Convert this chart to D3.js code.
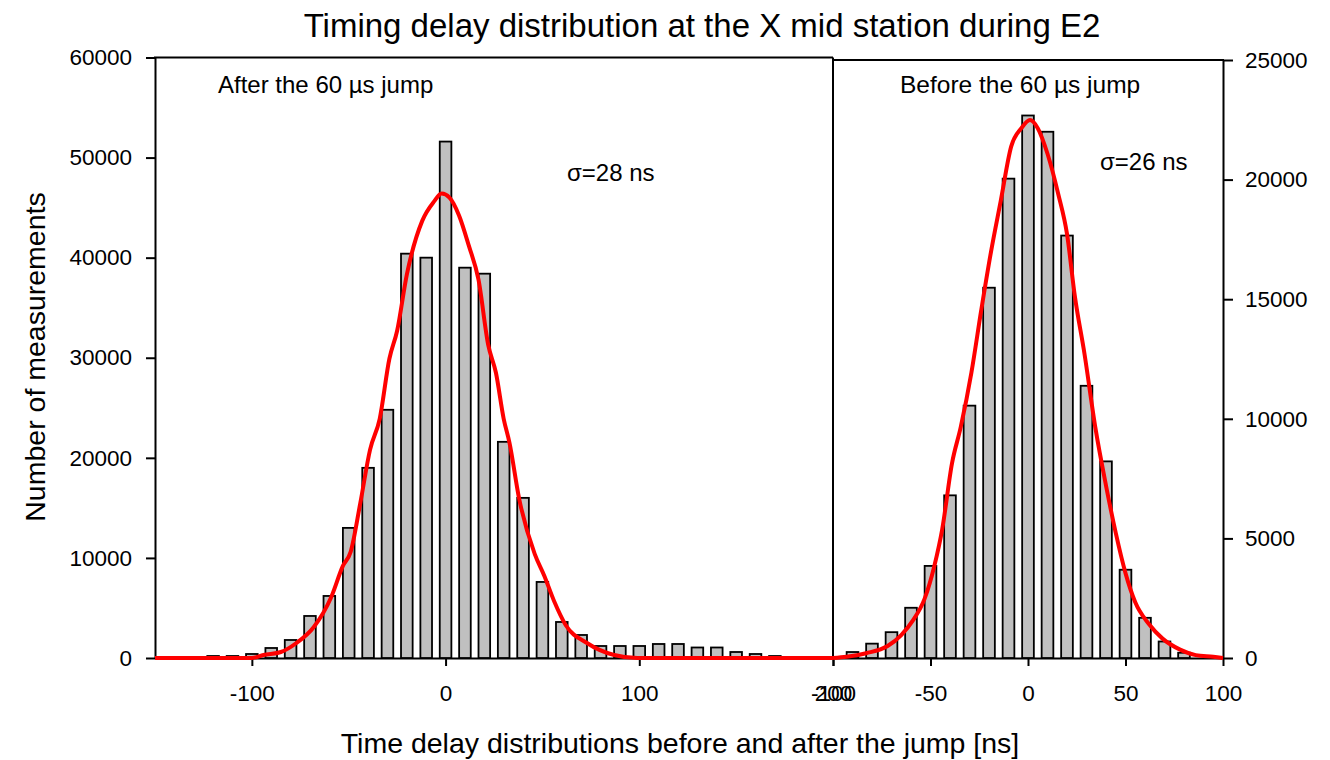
<!DOCTYPE html>
<html>
<head>
<meta charset="utf-8">
<script src="https://cdn.jsdelivr.net/npm/d3@7"></script>
<style>
  body { margin: 0; background: #fff; }
  text { font-family: "Liberation Sans", Arial, sans-serif; fill: #000; }
</style>
</head>
<body>
<svg id="chart"></svg>
<script>
// after the jump (left panel), 10 ns bins
const leftBins = [-120,-110,-100,-90,-80,-70,-60,-50,-40,-30,-20,-10,0,10,20,30,40,50,60,70,80,90,100,110,120,130,140,150,160,170];
const leftCounts = [200,200,400,1000,1800,4200,6200,13000,19000,24800,40400,40000,51600,39000,38400,21600,16000,7600,3600,2300,1200,1200,1200,1400,1400,1050,1050,600,400,200];

// before the jump (right panel)
const rightBins = [-90,-80,-70,-60,-50,-40,-30,-20,-10,0,10,20,30,40,50,60,70,80];
const rightCounts = [250,600,1080,2100,3850,6800,10550,15480,20040,22680,22000,17660,11380,8220,3690,1680,690,220];

// fitted curves
const leftFitX = [-150,-100,-94,-85,-77,-68,-59,-53,-49,-44,-39,-34,-29,-25,-20,-12,-6,-2,2,7,12,17,22,26,30,33,38,46,51,56,62,73,87,99,200];
const leftFitY = [0,0,300,600,1500,3100,6100,9200,10600,15500,20800,23900,29900,32700,38300,43700,45600,46400,46000,44200,41200,37800,31300,28500,23900,21500,15900,10400,8200,5700,3300,1500,300,0,0];
const rightFitX = [-100,-93,-83,-72,-65,-59,-53,-48,-44,-39,-34.5,-29,-24,-19,-14,-8.6,-3.4,1,5,10,15.5,20,24,29,34.5,40,45,50,55,62,69,78,86,95,100];
const rightFitY = [0,50,200,500,960,1570,2480,3860,5380,8130,9650,11940,14530,16970,19100,21390,22150,22490,22150,21080,19400,17730,15140,12700,9650,7210,5230,3550,2330,1420,810,350,120,50,0];

const leftYTicks = [0,10000,20000,30000,40000,50000,60000];
const rightYTicks = [0,5000,10000,15000,20000,25000];
const leftXTicks = [-100,0,100,200];
const rightXTicks = [-100,-50,0,50,100];

const W = 1330, H = 760;
const binWidth = 6; // ns

const svg = d3.select("#chart").attr("width", W).attr("height", H);

const xL = d3.scaleLinear().domain([-150, 200]).range([155, 833]);
const xR = d3.scaleLinear().domain([-100, 100]).range([833, 1223]);
const yL = d3.scaleLinear().domain([0, 60000]).range([658, 57.5]);
const yR = d3.scaleLinear().domain([0, 25000]).range([658, 60]);

// plain hyphen for negatives, like the original
const fmt = d => String(d);

function styleAxis(g, size) {
  g.selectAll("path, line").attr("stroke", "#000").attr("stroke-width", 2);
  g.selectAll("text").style("font-size", size + "px").attr("fill", "#000");
}

// axes
svg.append("g")
  .attr("transform", `translate(${xL.range()[0]},0)`)
  .call(d3.axisLeft(yL).tickValues(leftYTicks).tickFormat(fmt).tickSize(9).tickSizeOuter(0).tickPadding(14))
  .call(g => styleAxis(g, 22.5));

svg.append("g")
  .attr("transform", `translate(${xR.range()[1]},0)`)
  .call(d3.axisRight(yR).tickValues(rightYTicks).tickFormat(fmt).tickSize(10).tickSizeOuter(0).tickPadding(12))
  .call(g => styleAxis(g, 22.5));

svg.append("g")
  .attr("transform", `translate(0,${yL(0)})`)
  .call(d3.axisBottom(xL).tickValues(leftXTicks).tickFormat(fmt).tickSize(8).tickSizeOuter(0).tickPadding(19))
  .call(g => styleAxis(g, 22.5));

svg.append("g")
  .attr("transform", `translate(0,${yR(0)})`)
  .call(d3.axisBottom(xR).tickValues(rightXTicks).tickFormat(fmt).tickSize(8).tickSizeOuter(0).tickPadding(19))
  .call(g => styleAxis(g, 22.5));

// panel frames
const frame = svg.append("g").attr("stroke", "#000").attr("stroke-width", 2).attr("fill", "none");
frame.append("line").attr("x1", xL.range()[0] - 1).attr("x2", xL.range()[1]).attr("y1", yL.range()[1]).attr("y2", yL.range()[1]);
frame.append("line").attr("x1", xL.range()[1]).attr("x2", xL.range()[1]).attr("y1", yL.range()[1]).attr("y2", yL.range()[0]);
frame.append("line").attr("x1", xR.range()[0]).attr("x2", xR.range()[1] + 1).attr("y1", yR.range()[1]).attr("y2", yR.range()[1]);

// bars
function drawBars(bins, counts, x, y) {
  svg.append("g")
    .selectAll("rect")
    .data(bins.map((b, i) => ({ b, c: counts[i] })))
    .join("rect")
    .attr("x", d => x(d.b - binWidth / 2))
    .attr("width", d => x(d.b + binWidth / 2) - x(d.b - binWidth / 2))
    .attr("y", d => y(d.c))
    .attr("height", d => y(0) - y(d.c))
    .attr("fill", "#c0c0c0")
    .attr("stroke", "#000")
    .attr("stroke-width", 1.8);
}
drawBars(leftBins, leftCounts, xL, yL);
drawBars(rightBins, rightCounts, xR, yR);

// fits
function drawFit(xs, ys, x, y) {
  const line = d3.line().x(d => x(d[0])).y(d => y(d[1])).curve(d3.curveMonotoneX);
  svg.append("path")
    .datum(xs.map((v, i) => [v, ys[i]]))
    .attr("d", line)
    .attr("fill", "none")
    .attr("stroke", "#ff0000")
    .attr("stroke-width", 4)
    .attr("stroke-linejoin", "round");
}
drawFit(leftFitX, leftFitY, xL, yL);
drawFit(rightFitX, rightFitY, xR, yR);

// text
svg.append("text").attr("x", 702).attr("y", 37).attr("text-anchor", "middle")
  .style("font-size", "33px").text("Timing delay distribution at the X mid station during E2");
svg.append("text").attr("x", 680).attr("y", 753).attr("text-anchor", "middle")
  .style("font-size", "28.5px").text("Time delay distributions before and after the jump [ns]");
svg.append("text").attr("transform", "translate(45,357) rotate(-90)").attr("text-anchor", "middle")
  .style("font-size", "28.5px").text("Number of measurements");

svg.append("text").attr("x", 218).attr("y", 93).style("font-size", "24px").text("After the 60 µs jump");
svg.append("text").attr("x", 900).attr("y", 93).style("font-size", "24.5px").text("Before the 60 µs jump");
svg.append("text").attr("x", 567).attr("y", 181).style("font-size", "24px").text("σ=28 ns");
svg.append("text").attr("x", 1100).attr("y", 170).style("font-size", "24px").text("σ=26 ns");
</script>
</body>
</html>
